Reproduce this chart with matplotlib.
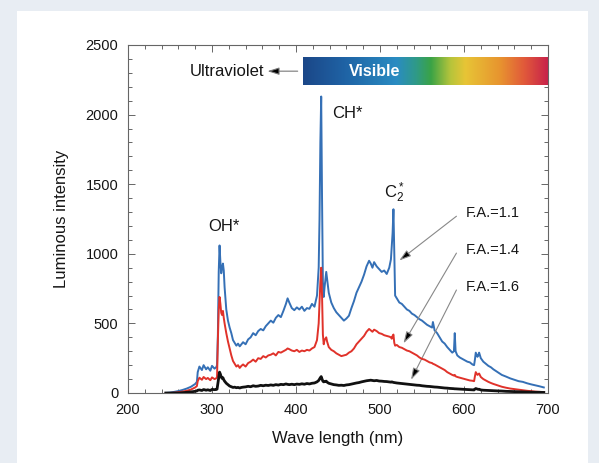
import numpy as np
import matplotlib.pyplot as plt
from matplotlib.colors import LinearSegmentedColormap
from matplotlib.patches import Rectangle

plt.rcParams['font.family'] = ['Liberation Sans', 'DejaVu Sans']
plt.rcParams['mathtext.fontset'] = 'custom'
plt.rcParams['mathtext.rm'] = 'Liberation Sans'
plt.rcParams['mathtext.it'] = 'Liberation Sans'

# wavelength (nm)
wl = [245, 250, 255, 260, 265, 270, 275, 280, 282, 283,
      285, 288, 290, 293, 295, 298, 300, 303, 305, 306,
      307, 308, 309, 310, 311, 312, 313, 314, 315, 317,
      319, 321, 323, 325, 327, 329, 331, 333, 335, 337,
      340, 343, 346, 349, 352, 355, 358, 361, 364, 367,
      370, 373, 376, 379, 382, 385, 388, 390, 392, 395,
      398, 401, 404, 407, 410, 413, 416, 419, 422, 425,
      427, 428, 429, 430, 431, 432, 433, 434, 436, 437,
      439, 442, 445, 448, 451, 454, 457, 460, 463, 466,
      469, 472, 475, 478, 481, 484, 487, 489, 491, 493,
      496, 499, 502, 505, 508, 511, 513, 514, 515, 516,
      517, 518, 520, 523, 526, 529, 532, 535, 538, 541,
      544, 547, 550, 553, 556, 559, 562, 563, 565, 568,
      571, 574, 577, 580, 583, 586, 588, 589, 590, 592,
      595, 598, 601, 604, 607, 610, 612, 613, 614, 616,
      617, 618, 620, 623, 626, 629, 632, 635, 640, 645,
      650, 655, 660, 665, 670, 675, 680, 685, 690, 695]

# F.A.=1.1
fa11 = [0, 3, 8, 14, 22, 32, 45, 65, 80, 150,
        190, 165, 200, 170, 185, 160, 195, 175, 185, 200,
        420, 870, 1060, 940, 860, 900, 930, 880, 760, 600,
        520, 470, 430, 380, 360, 340, 355, 335, 350, 365,
        350, 385, 400, 430, 415, 445, 460, 450, 480, 500,
        520, 505, 540, 560, 545, 590, 640, 680, 650, 610,
        595, 615, 600, 620, 590, 610, 605, 640, 620, 700,
        900, 1250, 1800, 2130, 1400, 800, 690, 760, 870, 820,
        720, 650, 610, 580, 560, 540, 520, 535, 555, 610,
        660, 720, 760, 800, 850, 910, 950, 930, 900, 940,
        910, 890, 870, 880, 855, 900, 960, 1050, 1150, 1320,
        1000, 700, 680, 650, 640, 620, 600, 590, 570, 560,
        545, 530, 520, 505, 490, 480, 470, 510, 450, 430,
        400, 370, 355, 330, 310, 290, 300, 430, 300, 270,
        255, 245, 235, 225, 220, 205, 200, 240, 290, 260,
        270, 290, 250, 225, 210, 195, 185, 170, 150, 130,
        118, 105, 95, 85, 80, 70, 62, 55, 48, 40]

# F.A.=1.4
fa14 = [0, 0, 2, 6, 10, 16, 25, 40, 50, 85,
        110, 95, 115, 100, 108, 92, 112, 100, 105, 115,
        380, 600, 690, 640, 575, 560, 590, 540, 500, 430,
        370, 320, 270, 230, 210, 190, 200, 180, 195, 205,
        190, 215, 225, 240, 225, 250, 245, 265, 255, 270,
        275, 285, 270, 295, 290, 300, 310, 320, 315, 305,
        300, 310, 295, 305, 300, 310, 305, 320, 330, 380,
        500, 650, 800, 900, 700, 420, 350, 380, 400, 370,
        330, 310, 300, 285, 275, 265, 270, 275, 290, 300,
        320, 350, 370, 390, 410, 440, 460, 450, 440, 455,
        445, 430, 425, 415, 410, 405, 400, 390, 410, 420,
        360, 340, 345, 330, 325, 315, 305, 300, 290, 280,
        270, 255, 245, 240, 230, 220, 215, 210, 205, 195,
        185, 175, 165, 150, 140, 130, 125, 130, 120, 115,
        110, 105, 100, 95, 90, 88, 85, 120, 150, 130,
        135, 140, 115, 100, 90, 80, 72, 65, 55, 45,
        38, 32, 28, 24, 20, 16, 13, 10, 8, 6]

# F.A.=1.6
fa16 = [0, 0, 0, 0, 2, 5, 8, 12, 15, 20,
        22, 18, 25, 20, 23, 18, 26, 24, 25, 28,
        70, 110, 150, 135, 115, 105, 110, 95, 85, 70,
        60, 50, 45, 40, 42, 38, 40, 36, 40, 42,
        44, 48, 45, 52, 48, 50, 55, 52, 56, 54,
        58, 55, 60, 57, 62, 60, 65, 62, 60, 63,
        60, 64, 62, 66, 63, 68, 65, 70, 72, 80,
        90, 100, 110, 118, 100, 85, 80, 82, 85, 78,
        70, 65, 60, 58, 55, 56, 54, 58, 60, 64,
        68, 72, 75, 80, 84, 88, 90, 92, 90, 88,
        90, 86, 85, 83, 82, 80, 78, 80, 78, 76,
        75, 74, 72, 70, 68, 66, 64, 62, 60, 58,
        56, 55, 52, 50, 48, 47, 45, 44, 43, 42,
        40, 38, 36, 35, 33, 32, 31, 30, 30, 29,
        28, 27, 26, 25, 24, 23, 22, 28, 32, 28,
        26, 27, 22, 20, 19, 18, 17, 16, 15, 14,
        12, 11, 10, 9, 8, 7, 6, 5, 5, 4]

fa_labels = ['F.A.=1.1', 'F.A.=1.4', 'F.A.=1.6']
fa_label_y = [1290, 1025, 760]
fa_arrow_tip = [(523, 952), (528, 357), (537, 95)]

spectrum_colors = ['#1b4788', '#1f63a5', '#2a8cc2', '#2f9a88', '#3aa346',
                   '#b6c43b', '#e7c536', '#e8952f', '#e15a3a', '#c7204b']
spectrum_pos = [0.0, 0.17, 0.38, 0.46, 0.52, 0.6, 0.66, 0.8, 0.9, 1.0]

txt = '#151515'

fig = plt.figure(figsize=(5.99, 4.63), dpi=100)
fig.patch.set_facecolor('#e8edf3')
fig.patches.append(Rectangle((17/599, 0), 571/599, 1 - 11/463, transform=fig.transFigure,
                             facecolor='white', edgecolor='none', zorder=-1))
ax = fig.add_axes([128/599, 1 - 393/463, 420/599, 348/463])

ax.plot(wl, fa11, color='#3570b6', lw=1.4, zorder=3)
ax.plot(wl, fa14, color='#e0322a', lw=1.4, zorder=4)
ax.plot(wl, fa16, color='#111111', lw=2.0, zorder=5)

# visible spectrum bar
cmap = LinearSegmentedColormap.from_list('vis', list(zip(spectrum_pos, spectrum_colors)))
ax.imshow(np.linspace(0, 1, 256).reshape(1, -1), cmap=cmap, aspect='auto',
          extent=[408, 700, 2213, 2407], zorder=2)
ax.text(494, 2312, 'Visible', color='white', fontsize=11.5, fontweight='bold',
        ha='center', va='center', zorder=3)
ax.text(362, 2310, 'Ultraviolet', color=txt, fontsize=12, ha='right', va='center')
ax.annotate('', xy=(366, 2312), xytext=(402, 2312),
            arrowprops=dict(arrowstyle='-|>,head_length=0.7,head_width=0.22',
                            fc='black', ec='#777777', lw=0.8, shrinkA=0, shrinkB=0))

ax.text(314, 1195, 'OH*', fontsize=12, ha='center', va='center', color=txt)
ax.text(443, 2010, 'CH*', fontsize=12, ha='left', va='center', color=txt)
ax.text(517, 1440, r'C$_2^*$', fontsize=12, ha='center', va='center', color=txt)

for lab, ly, tip in zip(fa_labels, fa_label_y, fa_arrow_tip):
    ax.text(602, ly, lab, fontsize=10.5, ha='left', va='center', color=txt)
    ax.annotate('', xy=tip, xytext=(591, ly - 20),
                arrowprops=dict(arrowstyle='-|>,head_length=0.7,head_width=0.22',
                                fc='black', ec='#888888', lw=0.8, shrinkA=0, shrinkB=0))

ax.set_xlim(200, 700)
ax.set_ylim(0, 2500)
ax.set_xticks(np.arange(200, 701, 100))
ax.set_xticks(np.arange(200, 701, 20), minor=True)
ax.set_yticks(np.arange(0, 2501, 500))
ax.set_yticks(np.arange(0, 2501, 100), minor=True)
ax.tick_params(which='both', direction='in', top=True, right=True, colors='#666666',
               labelcolor=txt, labelsize=10.5, width=0.7)
ax.tick_params(which='major', length=5, pad=7)
ax.tick_params(which='minor', length=3)
for s in ax.spines.values():
    s.set_color('#666666')
    s.set_linewidth(0.8)

ax.set_xlabel('Wave length (nm)', fontsize=12, color=txt)
ax.set_ylabel('Luminous intensity', fontsize=12, color=txt)
ax.xaxis.set_label_coords(0.5, -0.11)
ax.yaxis.set_label_coords(-0.14, 0.5)

fig.savefig('out.png', dpi=100)
